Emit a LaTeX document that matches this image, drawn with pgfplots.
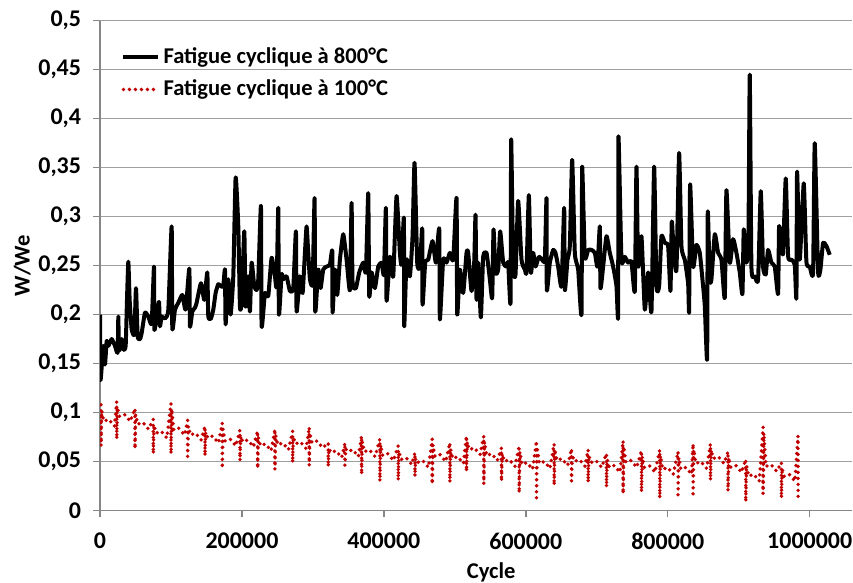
\documentclass[border=0pt]{standalone}
\usepackage{fontspec}
\setmainfont{Carlito}
\usepackage{pgfplots}
\pgfplotsset{compat=1.18}
\definecolor{dred}{RGB}{192,0,0}
\definecolor{gridgray}{RGB}{160,160,160}
\definecolor{axgray}{RGB}{134,134,134}

\begin{document}
\begin{tikzpicture}
\begin{axis}[
    name=ax,
    scale only axis,
    width=13.24cm, height=8.62cm,
    xmin=0, xmax=1060000,
    ymin=0, ymax=0.5,
    axis x line*=bottom, axis y line*=left,
    axis line style={axgray, line width=0.7pt},
    xtick={0,200000,400000,600000,800000,1000000},
    xticklabels={0,200000,400000,600000,800000,1000000},
    scaled x ticks=false,
    ytick={0,0.05,0.1,0.15,0.2,0.25,0.3,0.35,0.4,0.45,0.5},
    yticklabels={0,{0,05},{0,1},{0,15},{0,2},{0,25},{0,3},{0,35},{0,4},{0,45},{0,5}},
    ymajorgrids,
    grid style={gridgray, line width=0.7pt},
    tick align=outside,
    major tick length=0.12cm,
    tick style={axgray, line width=0.7pt},
    every tick label/.append style={font=\fontsize{12}{14}\selectfont\bfseries},
    xticklabel style={yshift=-0.15cm, inner xsep=0pt},
    yticklabel style={xshift=-0.09cm},
    legend style={at={(axis description cs:0.02,0.963)}, anchor=north west,
        draw=none, fill=none, font=\fontsize{11.3}{13}\selectfont\bfseries, row sep=3pt},
    legend cell align=left,
]

% 800 C
\addplot[black, line width=2pt, line join=round, smooth, tension=0.3] coordinates {
(0,0.200) (700,0.133) (4695,0.168) (7043,0.149) (9390,0.173) (11738,0.168)
(16433,0.175) (21128,0.168) (24884,0.161) (25823,0.198) (26762,0.163)
(30518,0.175) (32865,0.164) (36152,0.168) (38030,0.215) (39908,0.254)
(41786,0.215) (44603,0.185) (48359,0.180) (50706,0.227) (53054,0.178)
(56340,0.175) (58688,0.181) (63383,0.202) (68078,0.198) (72773,0.191)
(76059,0.249) (76529,0.185) (79815,0.198) (83102,0.213) (84510,0.188)
(86858,0.198) (91553,0.196) (96248,0.205) (100943,0.290) (101882,0.186)
(105638,0.205) (110333,0.212) (115967,0.220) (120662,0.205) (125826,0.247)
(126765,0.188) (130052,0.203) (133808,0.207) (136155,0.212) (142259,0.232)
(146954,0.215) (151179,0.243) (152588,0.198) (156344,0.196) (159630,0.205)
(162917,0.222) (166673,0.231) (170429,0.229) (173715,0.229) (176063,0.246)
(177002,0.190) (180758,0.236) (184044,0.200) (187800,0.239) (191087,0.340)
(194843,0.290) (197190,0.208) (199538,0.212) (203294,0.285) (205172,0.208)
(208928,0.239) (211275,0.203) (213623,0.253) (217379,0.229) (220665,0.225)
(223013,0.236) (226769,0.311) (227708,0.188) (232403,0.222) (237098,0.219)
(241793,0.258) (246488,0.239) (248835,0.229) (251183,0.309) (252122,0.200)
(255878,0.241) (258225,0.236) (262920,0.239) (267615,0.224) (272310,0.227)
(276066,0.285) (277005,0.203) (281700,0.239) (285456,0.222) (288742,0.263)
(291090,0.290) (293437,0.263) (295785,0.236) (299541,0.232) (302358,0.319)
(303297,0.203) (307522,0.246) (310809,0.227) (314565,0.246) (319260,0.249)
(323955,0.251) (327241,0.265) (327711,0.202) (330997,0.246) (334284,0.220)
(338040,0.256) (342735,0.282) (347430,0.256) (352125,0.225) (354472,0.314)
(355881,0.232) (360576,0.227) (365271,0.243) (370905,0.253) (374661,0.244)
(377947,0.324) (379356,0.219) (382642,0.243) (387337,0.227) (392032,0.249)
(396727,0.253) (400014,0.241) (402831,0.309) (403770,0.214) (408465,0.259)
(413160,0.239) (417855,0.321) (422550,0.263) (424897,0.251) (428184,0.299)
(428653,0.188) (431940,0.256) (436635,0.239) (440391,0.280) (443208,0.355)
(446964,0.253) (450720,0.249) (454006,0.288) (454476,0.210) (458232,0.253)
(462457,0.256) (468561,0.275) (473256,0.253) (477951,0.288) (478890,0.195)
(483585,0.256) (488280,0.253) (492975,0.263) (497670,0.256) (502365,0.319)
(503304,0.200) (507060,0.246) (511755,0.222) (516450,0.263) (518797,0.263)
(523492,0.224) (527248,0.253) (529126,0.302) (530535,0.215) (532882,0.253)
(536638,0.197) (539924,0.259) (544619,0.263) (549314,0.236) (552601,0.217)
(554479,0.287) (557296,0.243) (561052,0.246) (563869,0.285) (568094,0.253)
(572789,0.249) (575137,0.253) (578423,0.212) (579362,0.379) (582179,0.249)
(585466,0.241) (589222,0.316) (593917,0.256) (598612,0.246) (600959,0.244)
(604246,0.322) (607063,0.243) (610349,0.263) (613636,0.249) (618331,0.259)
(623026,0.256) (626782,0.256) (629129,0.319) (629599,0.225) (633824,0.253)
(638519,0.266) (641806,0.263) (645562,0.249) (650257,0.229) (654013,0.309)
(654952,0.225) (658708,0.256) (661994,0.270) (665281,0.358) (669037,0.263)
(673732,0.246) (678427,0.200) (679366,0.351) (683122,0.259) (687817,0.266)
(692512,0.266) (697207,0.263) (700963,0.249) (704249,0.290) (705188,0.227)
(708944,0.249) (713639,0.280) (718334,0.263) (723029,0.249) (727724,0.229)
(730072,0.198) (730541,0.382) (734767,0.256) (739462,0.259) (744157,0.253)
(748852,0.254) (753547,0.224) (755894,0.351) (758242,0.249) (762937,0.280)
(767632,0.205) (772327,0.243) (777022,0.203) (780778,0.351) (784065,0.229)
(787821,0.229) (791107,0.280) (795802,0.273) (800497,0.270) (803784,0.224)
(805662,0.295) (808479,0.263) (812235,0.246) (815991,0.365) (819277,0.270)
(823972,0.256) (828667,0.232) (830076,0.203) (831485,0.333) (835710,0.249)
(840405,0.271) (845100,0.263) (848856,0.236) (852142,0.209) (855429,0.154)
(856368,0.305) (859185,0.236) (861532,0.236) (866227,0.282) (870922,0.263)
(875617,0.256) (880312,0.217) (882660,0.327) (887355,0.253) (892050,0.277)
(896745,0.263) (901440,0.243) (905196,0.221) (907074,0.287) (910830,0.253)
(913647,0.277) (915525,0.445) (917872,0.249) (922567,0.239) (927262,0.236)
(931018,0.326) (934305,0.249) (938061,0.241) (941347,0.266) (946042,0.253)
(950737,0.249) (955432,0.221) (956841,0.290) (960127,0.270) (962475,0.263)
(966231,0.339) (969517,0.260) (974212,0.256) (978907,0.251) (981255,0.217)
(982194,0.346) (985950,0.256) (991584,0.334) (995340,0.254) (1000035,0.249)
(1004730,0.243) (1007077,0.375) (1011772,0.244) (1015059,0.246) (1018815,0.273)
(1023510,0.270) (1028205,0.261)
};
\addlegendentry{Fatigue cyclique à 800°C}

% 100 C
\addplot[dred, line width=1.9pt, line cap=round, dash pattern=on 0pt off 3pt] coordinates {
(1400,.108)(1400,.066)(2400,.102)(5400,.091)(12400,.093)(20400,.086)
(23500,.111)(23500,.073)(24500,.105)(27500,.096)(34500,.098)(42500,.091)
(49300,.104)(49300,.063)(50300,.098)(53300,.088)(60300,.090)(68300,.083)
(75100,.093)(75100,.058)(76100,.087)(79100,.079)(86100,.081)(94100,.074)
(100000,.109)(100000,.058)(101000,.103)(104000,.082)(111000,.084)(119000,.077)
(123500,.092)(123500,.055)(124500,.086)(127500,.077)(134500,.079)(142500,.072)
(147900,.086)(147900,.056)(148900,.080)(151900,.074)(158900,.076)(166900,.069)
(172300,.089)(172300,.043)(173300,.083)(176300,.071)(183300,.073)(191300,.066)
(197200,.082)(197200,.051)(198200,.076)(201200,.070)(208200,.072)(216200,.065)
(222100,.081)(222100,.043)(223100,.075)(226100,.066)(233100,.068)(241100,.061)
(246500,.083)(246500,.042)(247500,.077)(250500,.067)(257500,.069)(265500,.062)
(271400,.081)(271400,.049)(272400,.075)(275400,.068)(282400,.070)(290400,.063)
(294800,.085)(294800,.046)(295800,.079)(298800,.069)(305800,.071)(313800,.064)
(321600,.069)(321600,.045)(322600,.063)(325600,.059)(332600,.061)(340600,.054)
(345100,.069)(345100,.046)(346100,.063)(349100,.060)(356100,.062)(364100,.055)
(368600,.076)(368600,.037)(369600,.070)(372600,.060)(379600,.062)(387600,.055)
(394400,.073)(394400,.030)(395400,.067)(398400,.056)(405400,.058)(413400,.051)
(420200,.066)(420200,.031)(421200,.060)(424200,.052)(431200,.054)(439200,.047)
(443700,.059)(443700,.035)(444700,.053)(447700,.049)(454700,.051)(462700,.044)
(468100,.073)(468100,.027)(469100,.067)(472100,.055)(479100,.057)(487100,.050)
(493000,.069)(493000,.029)(494000,.063)(497000,.053)(504000,.055)(512000,.048)
(516400,.076)(516400,.040)(517400,.070)(520400,.062)(527400,.064)(535400,.057)
(540800,.076)(540800,.027)(541800,.070)(544800,.056)(551800,.058)(559800,.051)
(565700,.064)(565700,.030)(566700,.058)(569700,.050)(576700,.052)(584700,.045)
(590600,.066)(590600,.018)(591600,.060)(594600,.047)(601600,.049)(609600,.042)
(615000,.071)(615000,.013)(616000,.065)(619000,.048)(626000,.050)(634000,.043)
(639900,.068)(639900,.026)(640900,.062)(643900,.051)(650900,.053)(658900,.046)
(664400,.063)(664400,.030)(665400,.057)(668400,.050)(675400,.052)(683400,.045)
(687800,.062)(687800,.029)(688800,.056)(691800,.049)(698800,.051)(706800,.044)
(713600,.058)(713600,.024)(714600,.052)(717600,.044)(724600,.046)(732600,.039)
(737100,.071)(737100,.017)(738100,.065)(741100,.049)(748100,.051)(756100,.044)
(763000,.061)(763000,.019)(764000,.055)(767000,.044)(774000,.046)(782000,.039)
(788700,.062)(788700,.013)(789700,.056)(792700,.042)(799700,.044)(807700,.037)
(814500,.060)(814500,.016)(815500,.054)(818500,.042)(825500,.044)(833500,.037)
(835700,.068)(835700,.017)(836700,.062)(839700,.048)(846700,.050)(854700,.043)
(860100,.068)(860100,.031)(861100,.062)(864100,.053)(871100,.055)(879100,.048)
(884900,.060)(884900,.020)(885900,.054)(888900,.044)(895900,.046)(903900,.039)
(909900,.052)(909900,.009)(910900,.046)(913900,.035)(920900,.037)(928900,.030)
(934300,.085)(934300,.017)(935300,.079)(938300,.045)(945300,.047)(953300,.040)
(960100,.049)(960100,.013)(961100,.043)(964100,.035)(971100,.037)(979100,.030)
(983600,.076)(983600,.013)
};
\addlegendentry{Fatigue cyclique à 100°C}
\end{axis}
\node[font=\fontsize{11.3}{13}\selectfont\bfseries, anchor=center, inner sep=0pt]
    at ([xshift=0.52*13.24cm, yshift=-1.09cm]ax.south west) {Cycle};
\node[font=\fontsize{11.3}{13}\selectfont\bfseries, anchor=center, rotate=90, inner sep=0pt]
    at ([xshift=-1.37cm, yshift=0.5*8.62cm]ax.south west) {W/We};
\path ([xshift=-1.76cm, yshift=0.364cm]ax.north west) ([yshift=0.364cm]ax.north east);
\end{tikzpicture}
\end{document}
